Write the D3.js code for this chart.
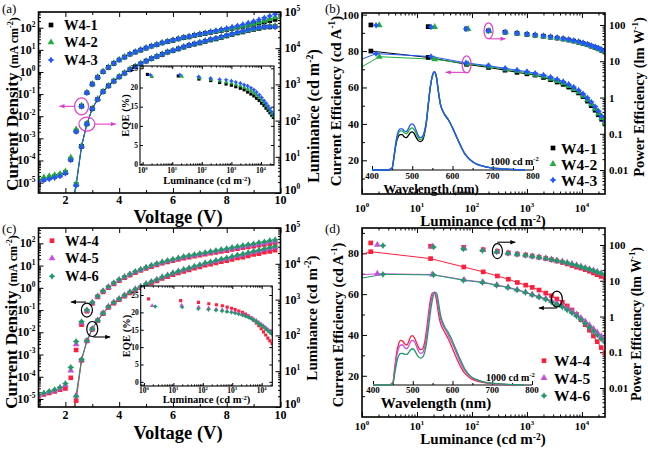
<!DOCTYPE html>
<html><head><meta charset="utf-8">
<script src="https://cdn.jsdelivr.net/npm/d3@7/dist/d3.min.js"></script>
<style>html,body{margin:0;padding:0;background:#fff;} svg text, svg tspan{font-family:"Liberation Serif","Times New Roman",serif;}</style>
</head><body>
<script>
// ================= DATA =================
const seriesNamesAB = ["W4-1","W4-2","W4-3"];
const seriesNamesCD = ["W4-4","W4-5","W4-6"];

// J-V (V) and L-V (V) voltages
const voltJ = [1.0,1.2,1.4,1.6,1.8,2.0,2.2,2.4,2.6,2.8,3.0,3.2,3.4,3.6,3.8,4.0,4.2,4.4,4.6,4.8,5.0,5.2,5.4,5.6,5.8,6.0,6.2,6.4,6.6,6.8,7.0,7.2,7.4,7.6,7.8,8.0,8.2,8.4,8.6,8.8,9.0,9.2,9.4,9.6,9.8];
const voltL = [2.2,2.4,2.6,2.8,3.0,3.2,3.4,3.6,3.8,4.0,4.2,4.4,4.6,4.8,5.0,5.2,5.4,5.6,5.8,6.0,6.2,6.4,6.6,6.8,7.0,7.2,7.4,7.6,7.8,8.0,8.2,8.4,8.6,8.8,9.0,9.2,9.4,9.6,9.8];

// (a) current density, mA cm-2
const J_W41 = [1.17e-5,1.41e-5,1.62e-5,1.86e-5,2.19e-5,2.82e-5,1.12e-4,2.14e-3,0.0288,0.115,0.282,0.575,1.02,1.62,2.45,3.47,4.68,6.31,7.94,9.77,12.0,14.5,17.0,20.4,23.4,26.9,30.9,35.5,38.9,44.7,50.1,55.0,61.7,67.6,75.9,83.2,93.3,105,115,129,141,162,182,209,240];
const J_W42 = [1.45e-5,1.7e-5,1.95e-5,2.15e-5,2.45e-5,3.2e-5,1.35e-4,2.5e-3,0.030,0.118,0.29,0.59,1.05,1.66,2.5,3.55,4.8,6.45,8.1,10.0,12.3,14.8,17.4,20.9,24.0,27.6,31.7,36.4,40.0,46.0,51.6,56.8,63.8,70.0,78.7,86.4,97.0,110,121,136,150,175,205,245,295];
const J_W43 = [1.1e-5,1.3e-5,1.45e-5,1.65e-5,1.95e-5,2.6e-5,1.05e-4,2.0e-3,0.028,0.113,0.28,0.57,1.02,1.63,2.48,3.52,4.75,6.4,8.05,9.9,12.2,14.7,17.3,20.8,23.9,27.5,31.6,36.3,40.0,46.0,51.8,57.5,65,72,82,92,105,122,140,163,192,230,280,340,410];
// (a) luminance, cd m-2
const L_W41 = [0.3,1.7,19.5,81,214,389,631,912,1230,1620,2040,2570,3090,3720,4370,5130,5890,6760,7760,8510,9550,10700,12000,12900,14100,15500,17000,18200,20000,21900,24000,26300,28200,30900,33100,35500,38000,38900,39800];
const L_W42 = [0.3,1.8,20,83,218,395,640,925,1250,1650,2080,2620,3150,3790,4450,5220,6000,6880,7900,8670,9730,10900,12200,13200,14400,15800,17400,18600,20500,22500,24600,27000,29000,31800,34100,36600,39200,40500,41500];
const L_W43 = [0.3,1.6,19,80,212,385,625,905,1220,1610,2030,2560,3080,3720,4380,5150,5920,6800,7830,8600,9660,10850,12200,13150,14400,15900,17500,18800,20700,22700,24900,27400,29400,32200,34500,36800,38800,39200,38500];

// (c) current density, mA cm-2
const J_W44 = [1.3e-5,1.6e-5,1.9e-5,2.2e-5,2.6e-5,3.0e-5,9.0e-5,1.6e-3,0.022,0.09,0.2,0.39,0.66,1.02,1.51,2.12,2.85,3.75,4.8,6.0,7.4,9.0,10.8,12.7,14.5,16.6,19.0,21.6,24.2,26.5,29.5,32.3,35.8,39.0,43.5,47.5,53,57.5,63.5,69,75,82,89,97,105];
const J_W45 = [1.45e-5,1.75e-5,2.05e-5,2.4e-5,2.95e-5,4.2e-5,1.9e-4,2.9e-3,0.027,0.096,0.215,0.41,0.70,1.08,1.6,2.25,3.05,4.0,5.15,6.45,7.95,9.7,11.7,13.8,15.8,18.1,20.8,23.7,26.6,29.2,32.5,35.6,40,43.7,49,53.5,60,65,72.5,79,86.5,96,104,116,128];
const J_W46 = [1.55e-5,1.86e-5,2.19e-5,2.63e-5,3.31e-5,5.0e-5,2.63e-4,3.89e-3,0.0302,0.1,0.224,0.427,0.724,1.12,1.66,2.34,3.16,4.17,5.37,6.76,8.32,10.2,12.3,14.5,16.6,19.1,21.9,25.1,28.2,30.9,34.7,38.0,42.7,46.8,52.5,57.5,64.6,70.8,79.4,87.1,95.5,107,117,132,145];
// (c) luminance, cd m-2
const L_W44 = [0.2,1.5,20,70,148,258,405,610,800,1000,1250,1530,1830,2140,2550,2920,3340,3900,4350,4960,5540,6180,6750,7520,8200,9150,9700,10600,11500,12300,13300,14500,15400,16700,18200,19300,21000,22300,24200];
const L_W45 = [0.3,2.1,21,71,152,265,420,635,835,1050,1320,1620,1950,2290,2730,3140,3600,4230,4740,5430,6080,6810,7460,8350,9140,10300,10950,12000,13100,14100,15300,16800,17900,19600,21400,22900,25000,26700,29100];
const L_W46 = [0.3,2.0,21,71,151,263,417,631,832,1050,1320,1620,1950,2290,2750,3160,3630,4270,4790,5500,6170,6920,7590,8510,9330,10500,11200,12300,13500,14500,15800,17400,18600,20400,22400,24000,26300,28200,30900];

// (a inset, b) efficiencies vs luminance
const lumB_W41 = [1.45,16,80,200,400,660,1000,1410,2000,2690,3550,4570,5750,7080,8710,10500,12600,14800,17400,20000,22900,26300];
const EQE_W41  = [23.4,23.0,22.2,21.8,21.3,20.9,20.6,20.2,19.8,19.4,18.8,18.3,17.8,17.2,16.6,15.9,15.3,14.6,14.0,13.4,12.8,12.2];
const CE_W41   = [80,76.5,72.7,71.0,69.5,68.3,67.5,66.8,65.5,64.3,63,61.7,60.2,58.7,57,55,52.5,50,47.5,45,42.5,40];
const PE_W41   = [100,90,78,69,63,59,55,52,49,46,43.5,41,38.5,36,33.5,31,28.5,26,24,22,20,18];
const lumB_W42 = [0.5,2.06,21,85,205,410,670,1010,1420,2000,2700,3550,4570,5750,7080,8710,10500,12600,14800,17400,20000,22900,26300];
const EQE_W42  = [19.5,22.8,22.9,22.5,22.1,21.7,21.4,21.1,20.8,20.4,20.0,19.6,19.1,18.6,18.0,17.4,16.7,16.0,15.3,14.6,13.9,13.2,12.5];
const CE_W42   = [66,76.9,75.5,73.0,71.5,70.0,69.0,68.0,67.0,66.0,64.8,63.6,62.3,60.8,59.2,57.5,55.5,53.2,50.8,48.3,45.7,43.2,40.5];
const PE_W42   = [75,98,88,77,68,62.5,58.5,55,52,49,46,43.5,41,38.5,36,33.5,31,28.5,26.2,24.2,22.2,20.3,18.5];
const lumB_W43 = [0.5,1.8,18,78,198,400,660,1000,1410,2000,2690,3550,4570,5750,7080,8710,10500,12600,14800,17400,20000,22900,26300];
const EQE_W43  = [21,23.3,23.3,22.8,22.4,22.1,22.0,21.7,21.4,21.1,20.7,20.4,19.9,19.4,18.8,18.1,17.4,16.6,15.9,15.2,14.5,13.7,13.0];
const CE_W43   = [72,78.6,77.0,73.5,72.0,70.5,69.5,68.7,67.8,66.8,65.7,64.5,63.2,61.8,60.2,58.5,56.5,54.3,52.0,49.5,47.0,44.3,41.5];
const PE_W43   = [80,98,89,78,69,63.5,59.5,56,53,50,47,44.5,42,39.5,37,34.5,32,29.5,27,25,23,21,19];

// (c inset, d) efficiencies vs luminance
const lumD_W44 = [0.5,1.44,17.7,71,160,290,460,670,950,1250,1660,2200,2800,3500,4400,5400,6600,8000,9600,11500,13700,16200,19000,22500,26500];
const EQE_W44  = [22.5,23.9,23.4,22.9,22.5,22.2,21.9,21.5,21.2,20.8,20.4,20.0,19.5,19.0,18.4,17.7,17.0,16.2,15.3,14.4,13.5,12.6,11.8,11.0,10.3];
const CE_W44   = [77,80.8,77.4,73.3,70.9,68.9,67.3,65.7,64.4,63.3,62.0,60.5,59.2,57.6,56.0,54.2,52.2,50.0,47.5,45.0,42.3,39.5,36.7,33.8,31.0];
const PE_W44   = [115,114,92,86,74,67,60,56,52.6,49,45.5,42,38.5,35.5,32.5,29.5,26.5,24,22.5,20.5,18.5,16.6,14.8,13.2,11.8];
const lumD_W45 = [0.5,1.9,19,72,158,285,455,665,940,1250,1660,2200,2800,3500,4400,5400,6600,8000,9600,11500,13700,16200,19000,22500,26500];
const EQE_W45  = [21.8,21.9,22.0,21.5,21.2,20.9,20.7,20.4,20.2,20.0,19.7,19.4,19.1,18.8,18.4,18.0,17.6,17.1,16.6,16.1,15.6,15.1,14.6,14.1,13.6];
const CE_W45   = [68.9,70.0,69.6,67.0,65.9,64.5,63.4,62.2,61.0,59.8,58.8,57.8,56.7,55.5,54.3,53.0,51.6,50.0,48.3,46.6,44.8,43.0,41.2,39.4,37.6];
const PE_W45   = [98,101,90,80,72,65,59,55,51.5,48.5,45.5,42.5,39.5,37,34.5,32,29.5,27.2,25,23,21.2,19.5,17.9,16.4,15];
const lumD_W46 = [0.5,2.4,20,70,155,280,450,660,940,1250,1660,2200,2800,3500,4400,5400,6600,8000,9600,11500,13700,16200,19000,22500,26500];
const EQE_W46  = [21.6,21.7,21.5,21.0,20.8,20.6,20.4,20.2,20.0,19.8,19.5,19.2,18.9,18.6,18.2,17.8,17.3,16.8,16.3,15.8,15.2,14.7,14.2,13.7,13.2];
const CE_W46   = [66.4,69.7,69.4,66.8,65.7,64.3,63.2,62.0,60.8,59.6,58.5,57.4,56.2,55.0,53.7,52.3,50.8,49.2,47.5,45.7,43.8,41.9,40.0,38.1,36.2];
const PE_W46   = [90,96,88,78,70,64,58.5,54.5,51,48,45,42,39,36.5,34,31.5,29,26.8,24.6,22.6,20.8,19.1,17.5,16,14.6];

// EL spectra at 1000 cd m-2 (normalized)
const wavelength = [400,420,440,450,455,460,465,470,475,480,485,490,495,500,505,510,515,520,525,530,535,540,545,550,555,560,565,570,575,580,590,600,610,620,630,640,650,660,680,700,720,740,760,780];
const EL_W41 = [0,0,0,0.02,0.14,0.27,0.34,0.36,0.36,0.34,0.33,0.35,0.38,0.39,0.37,0.33,0.30,0.29,0.30,0.36,0.48,0.67,0.85,0.96,1.0,0.95,0.80,0.67,0.61,0.57,0.51,0.43,0.34,0.25,0.17,0.12,0.085,0.06,0.035,0.02,0.012,0.007,0.003,0];
const EL_W42 = [0,0,0,0.02,0.15,0.29,0.37,0.40,0.40,0.38,0.37,0.39,0.42,0.43,0.41,0.37,0.33,0.31,0.32,0.38,0.49,0.68,0.85,0.96,1.0,0.95,0.80,0.67,0.61,0.57,0.51,0.43,0.34,0.25,0.17,0.12,0.085,0.06,0.035,0.02,0.012,0.007,0.003,0];
const EL_W43 = [0,0,0,0.02,0.15,0.30,0.39,0.42,0.42,0.40,0.39,0.42,0.46,0.47,0.45,0.40,0.35,0.33,0.34,0.39,0.50,0.68,0.85,0.96,1.0,0.95,0.80,0.67,0.61,0.57,0.51,0.43,0.34,0.25,0.17,0.12,0.085,0.06,0.035,0.02,0.012,0.007,0.003,0];
const EL_W44 = [0,0,0,0.03,0.20,0.36,0.45,0.48,0.47,0.44,0.43,0.47,0.52,0.53,0.50,0.45,0.40,0.38,0.39,0.46,0.60,0.78,0.93,0.99,0.99,0.90,0.76,0.66,0.61,0.57,0.49,0.39,0.29,0.20,0.13,0.09,0.06,0.045,0.025,0.015,0.008,0.004,0.002,0];
const EL_W45 = [0,0,0,0.02,0.17,0.32,0.40,0.43,0.43,0.40,0.39,0.42,0.47,0.48,0.46,0.41,0.36,0.34,0.35,0.41,0.54,0.72,0.88,0.97,1.0,0.95,0.82,0.71,0.65,0.61,0.53,0.44,0.34,0.24,0.16,0.11,0.075,0.055,0.03,0.018,0.01,0.005,0.002,0];
const EL_W46 = [0,0,0,0.015,0.13,0.25,0.32,0.34,0.34,0.33,0.33,0.35,0.38,0.39,0.37,0.33,0.30,0.29,0.30,0.35,0.46,0.63,0.80,0.93,0.99,0.99,0.88,0.75,0.68,0.63,0.56,0.47,0.37,0.27,0.18,0.12,0.08,0.06,0.032,0.02,0.011,0.006,0.003,0];

// tick labels
const voltTicks = [2,4,6,8,10];
const ceTicks = [20,40,60,80,100];
const peTickLabels = ["0.01","0.1","1","10","100"];
const eqeTicks = [0,5,10,15,20,25];
const wlTicks = [400,500,600,700,800];

// ================= DRAW =================
const W=648,H=449;
const FONT='"Liberation Serif","Times New Roman",serif';
const svg=d3.select('body').append('svg').attr('width',W).attr('height',H).style('font-family',FONT);
svg.append('rect').attr('width',W).attr('height',H).attr('fill','#fff');
const defs=svg.append('defs');
let clipN=0;
function clip(l,t,r,b){const id='cp'+(clipN++);defs.append('clipPath').attr('id',id).append('rect').attr('x',l).attr('y',t).attr('width',r-l).attr('height',b-t);return `url(#${id})`;}

const star4={draw(ctx,size){const r=Math.sqrt(size)*0.8,ri=r*0.55;for(let i=0;i<8;i++){const a=Math.PI/4*i-Math.PI/2;const rr=i%2?ri:r;const px=rr*Math.cos(a),py=rr*Math.sin(a);if(i===0)ctx.moveTo(px,py);else ctx.lineTo(px,py);}ctx.closePath();}};

function logMajors(dom){const a=Math.min(...dom),b=Math.max(...dom);const out=[];for(let e=Math.ceil(Math.log10(a)-1e-9);e<=Math.floor(Math.log10(b)+1e-9);e++)out.push(Math.pow(10,e));return out;}
function logMinors(dom){const a=Math.min(...dom),b=Math.max(...dom);const out=[];for(let e=Math.floor(Math.log10(a))-1;e<=Math.ceil(Math.log10(b));e++)for(let m=2;m<10;m++){const v=m*Math.pow(10,e);if(v>=a&&v<=b)out.push(v);}return out;}
function ticks(parent,fn,scale,vals,len,tx,ty){
  const g=parent.append('g').attr('transform',`translate(${tx},${ty})`);
  g.call(fn(scale).tickValues(vals).tickSizeInner(-len).tickSizeOuter(0).tickFormat(()=>''));
  g.select('.domain').remove();g.selectAll('.tick text').remove();
  g.selectAll('.tick line').attr('stroke','#000').attr('stroke-width',1);
  return g;
}
function pow10(parent,x,y,e,fs,anchor){
  const t=parent.append('text').attr('x',x).attr('y',y).attr('font-size',fs).attr('font-weight','bold').attr('text-anchor',anchor||'middle').attr('fill','#000').style('font-family',FONT);
  t.append('tspan').text('10');
  t.append('tspan').attr('dy',-fs*0.42).attr('font-size',fs*0.62).text(e);
  return t;
}
function rich(parent,x,y,parts,rot,anchor){
  const t=parent.append('text').attr('transform',`translate(${x},${y}) rotate(${rot||0})`).attr('text-anchor',anchor||'middle').attr('font-weight','bold').attr('fill','#000').style('font-family',FONT);
  let up=0;
  parts.forEach(p=>{const s=t.append('tspan').attr('font-size',p[1]).text(p[0]);
    if(p[2]){s.attr('dy',-p[2]);up+=p[2];} else if(up){s.attr('dy',up);up=0;}});
  return t;
}
function txt(parent,x,y,s,fs,anchor,weight){return parent.append('text').attr('x',x).attr('y',y).attr('font-size',fs).attr('font-weight',weight||'bold').attr('text-anchor',anchor||'middle').attr('fill','#000').style('font-family',FONT).text(s);}
function arrow(g,x1,y1,x2,y2,color){
  g.append('line').attr('x1',x1).attr('y1',y1).attr('x2',x2).attr('y2',y2).attr('stroke',color).attr('stroke-width',1.1);
  const a=Math.atan2(y2-y1,x2-x1),L=5,w=2.2;
  const p=[[x2,y2],[x2-L*Math.cos(a)+w*Math.sin(a),y2-L*Math.sin(a)-w*Math.cos(a)],[x2-L*Math.cos(a)-w*Math.sin(a),y2-L*Math.sin(a)+w*Math.cos(a)]];
  g.append('path').attr('d','M'+p.join('L')+'Z').attr('fill',color);
}
function ellipse(g,cx,cy,rx,ry,color){g.append('ellipse').attr('cx',cx).attr('cy',cy).attr('rx',rx).attr('ry',ry).attr('fill','none').attr('stroke',color).attr('stroke-width',1.2);}
function marks(g,xs,ys,sym,size,color){
  g.selectAll(null).data(d3.zip(xs,ys)).join('path')
   .attr('transform',d=>`translate(${d[0]},${d[1]})`).attr('d',d3.symbol().type(sym).size(size)).attr('fill',color);
}

const C1='#000000',C2='#1fae3e',C3='#2457ff',C4='#ff1f3d',C5='#c64fe0',C6='#1f9a68',PINK='#e03cc8';

// ---------- J-V-L panel ----------
function jvPanel(c){
  const {l,r,t,b}=c.box;
  const g=svg.append('g');
  const x=d3.scaleLinear().domain([1,10]).range([l,r]);
  const yJ=d3.scaleLog().domain(c.jDom).range([b,t]);
  const yL=d3.scaleLog().domain([1,1e5]).range([b,t]);
  ticks(g,d3.axisBottom,x,voltTicks,5,0,b);ticks(g,d3.axisBottom,x,[1,3,5,7,9],3,0,b);
  ticks(g,d3.axisTop,x,voltTicks,5,0,t);ticks(g,d3.axisTop,x,[1,3,5,7,9],3,0,t);
  ticks(g,d3.axisLeft,yJ,logMajors(yJ.domain()),5,l,0);ticks(g,d3.axisLeft,yJ,logMinors(yJ.domain()),2.5,l,0);
  ticks(g,d3.axisRight,yL,logMajors(yL.domain()),5,r,0);ticks(g,d3.axisRight,yL,logMinors(yL.domain()),2.5,r,0);
  const dg=g.append('g').attr('clip-path',clip(l,t,r,b));
  c.series.forEach(s=>{
    dg.append('path').datum(d3.zip(voltL,s.L)).attr('d',d3.line().x(d=>x(d[0])).y(d=>yL(d[1]))).attr('fill','none').attr('stroke',s.color).attr('stroke-width',1);
  });
  c.series.forEach(s=>{
    marks(dg,voltJ.map(x),s.J.map(yJ),s.sym,s.size,s.color);
    marks(dg,voltL.map(x),s.L.map(yL),s.sym,s.size,s.color);
  });
  g.append('rect').attr('x',l).attr('y',t).attr('width',r-l).attr('height',b-t).attr('fill','none').attr('stroke','#000').attr('stroke-width',1.6);
  voltTicks.forEach(v=>txt(g,x(v),c.xlabY,String(v),12));
  logMajors(yJ.domain()).forEach(v=>pow10(g,l-3,yJ(v)+4,String(Math.round(Math.log10(v))),12,'end'));
  logMajors(yL.domain()).forEach(v=>pow10(g,r+4,Math.min(yL(v)+4,b+1),String(Math.round(Math.log10(v))),12,'start'));
  rich(g,c.ltitle[0],c.ltitle[1],[["Current Density ",17],["(mA cm",12],["-2",8,5],[")",12]],-90);
  rich(g,c.rtitle[0],c.rtitle[1],[["Luminance (cd m",c.rtitle[2]],["-2",c.rtitle[2]*0.62,6],[")",c.rtitle[2]]],-90);
  txt(g,178,c.xtitleY,"Voltage (V)",18.5);
  // legend
  c.series.forEach((s,i)=>{
    const yy=c.leg.y[i];
    g.append('path').attr('transform',`translate(${c.leg.mx},${yy})`).attr('d',d3.symbol().type(s.sym).size(s.size)).attr('fill',s.color);
    txt(g,c.leg.tx,yy+5,s.name,14.5,'start');
  });
  // inset EQE
  const ib=c.inset;
  g.append('rect').attr('x',ib.l).attr('y',ib.t).attr('width',ib.r-ib.l).attr('height',ib.b-ib.t).attr('fill','#fff');
  const xi=d3.scaleLog().domain(ib.xDom).range([ib.l,ib.r]);
  const yi=d3.scaleLinear().domain(ib.yDom).range([ib.b,ib.t]);
  ticks(g,d3.axisBottom,xi,logMajors(xi.domain()),3,0,ib.b);ticks(g,d3.axisBottom,xi,logMinors(xi.domain()),1.6,0,ib.b);
  ticks(g,d3.axisTop,xi,logMajors(xi.domain()),3,0,ib.t);ticks(g,d3.axisTop,xi,logMinors(xi.domain()),1.6,0,ib.t);
  const eq=eqeTicks.filter(v=>v>=ib.yDom[0]&&v<=ib.yDom[1]);
  ticks(g,d3.axisLeft,yi,eq,3,ib.l,0);ticks(g,d3.axisRight,yi,eq,3,ib.r,0);
  const ig=g.append('g').attr('clip-path',clip(ib.l,ib.t,ib.r,ib.b));
  c.series.forEach(s=>marks(ig,s.lum.map(xi),s.eqe.map(yi),s.sym,s.isize,s.color));
  g.append('rect').attr('x',ib.l).attr('y',ib.t).attr('width',ib.r-ib.l).attr('height',ib.b-ib.t).attr('fill','none').attr('stroke','#000').attr('stroke-width',1.1);
  eq.forEach(v=>txt(g,ib.l-2,yi(v)+2.8,String(v),7.5,'end'));
  logMajors(xi.domain()).forEach(v=>pow10(g,xi(v),ib.xlabY,String(Math.round(Math.log10(v))),7.5,'middle'));
  rich(g,(ib.l+ib.r)/2,ib.titleY,[["Luminance ",10.5],["(cd m",10.5],["-2",6.5,3.5],[")",10.5]],0);
  rich(g,ib.eqeX,(ib.t+ib.b)/2,[["EQE (%)",10.5]],-90);
  return {g,x,yJ,yL};
}

// ---------- efficiency panel ----------
function effPanel(c){
  const {l,r,t,b}=c.box;
  const g=svg.append('g');
  const x=d3.scaleLog().domain([1,Math.pow(10,4.42)]).range([l,r]);
  const yC=d3.scaleLinear().domain(c.ceDom).range([b,t]);
  const yP=d3.scaleLog().domain(c.peDom).range([b,t]);
  ticks(g,d3.axisBottom,x,logMajors(x.domain()),5,0,b);ticks(g,d3.axisBottom,x,logMinors(x.domain()),2.5,0,b);
  ticks(g,d3.axisTop,x,logMajors(x.domain()),5,0,t);ticks(g,d3.axisTop,x,logMinors(x.domain()),2.5,0,t);
  const ceMaj=ceTicks.filter(v=>v>=c.ceDom[0]&&v<=c.ceDom[1]);
  const ceMin=[10,30,50,70,90].filter(v=>v>=c.ceDom[0]&&v<=c.ceDom[1]);
  ticks(g,d3.axisLeft,yC,ceMaj,5,l,0);ticks(g,d3.axisLeft,yC,ceMin,3,l,0);
  ticks(g,d3.axisRight,yP,logMajors(yP.domain()),5,r,0);ticks(g,d3.axisRight,yP,logMinors(yP.domain()),2.5,r,0);
  // spectrum inset
  const sp=c.spec;
  const xs=d3.scaleLinear().domain([400,800]).range([sp.l,sp.r]);
  const ys=d3.scaleLinear().domain([0,1]).range([sp.base,sp.peak]);
  g.append('line').attr('x1',sp.l).attr('x2',sp.r).attr('y1',sp.base).attr('y2',sp.base).attr('stroke','#000').attr('stroke-width',1.2);
  ticks(g,d3.axisBottom,xs,wlTicks,4,0,sp.base);ticks(g,d3.axisBottom,xs,[450,550,650,750],2,0,sp.base);
  c.series.forEach(s=>{
    g.append('path').datum(d3.zip(wavelength,s.el)).attr('d',d3.line().curve(d3.curveMonotoneX).x(d=>xs(d[0])).y(d=>ys(d[1]))).attr('fill','none').attr('stroke',s.color).attr('stroke-width',1.3);
  });
  wlTicks.forEach(v=>txt(g,xs(v),sp.labY,String(v),9));
  txt(g,sp.titleX,sp.titleY,"Wavelength (nm)",sp.titleFs);
  rich(g,sp.noteX,sp.noteY,[["1000 cd m",10],["-2",6.5,4]],0,'start');
  // data
  const dg=g.append('g').attr('clip-path',clip(l,t,r,b));
  c.series.forEach(s=>{
    dg.append('path').datum(d3.zip(s.lum,s.ce)).attr('d',d3.line().x(d=>x(d[0])).y(d=>yC(d[1]))).attr('fill','none').attr('stroke',s.color).attr('stroke-width',1);
  });
  c.series.forEach(s=>{
    marks(dg,s.lum.map(x),s.ce.map(yC),s.sym,s.size,s.color);
    marks(dg,s.lum.map(x),s.pe.map(yP),s.sym,s.size,s.color);
  });
  g.append('rect').attr('x',l).attr('y',t).attr('width',r-l).attr('height',b-t).attr('fill','none').attr('stroke','#000').attr('stroke-width',1.6);
  logMajors(x.domain()).forEach(v=>pow10(g,x(v),c.xlabY,String(Math.round(Math.log10(v))),11,'middle'));
  ceMaj.forEach(v=>txt(g,l-3,yC(v)+4,String(v),11,'end'));
  logMajors(yP.domain()).forEach((v,i)=>txt(g,r+4,yP(v)+4,peTickLabels[i],11,'start'));
  rich(g,c.ltitle[0],c.ltitle[1],[["Current Efficiency (cd A",c.ltitle[2]],["-1",c.ltitle[2]*0.62,6],[")",c.ltitle[2]]],-90);
  rich(g,c.rtitle[0],c.rtitle[1],[["Power Efficiency (lm W",c.rtitle[2]],["-1",c.rtitle[2]*0.62,6],[")",c.rtitle[2]]],-90);
  rich(g,483,c.xtitleY,[["Luminance (cd m",15],["-2",9.5,4.5],[")",15]],0);
  c.series.forEach((s,i)=>{
    const yy=c.leg.y[i];
    g.append('path').attr('transform',`translate(${c.leg.mx},${yy})`).attr('d',d3.symbol().type(s.sym).size(s.size)).attr('fill',s.color);
    txt(g,c.leg.tx,yy+5.5,s.name,15.5,'start');
  });
  return {g,x,yC,yP};
}

// ---------- panels ----------
const A=jvPanel({
  box:{l:38.5,r:280.5,t:12,b:193}, jDom:[Math.pow(10,-5.47),Math.pow(10,2.71)],
  xlabY:204, xtitleY:223, ltitle:[17.5,104], rtitle:[319,116,16],
  leg:{mx:51,tx:64,y:[25,42.3,60]},
  inset:{l:140,r:274,t:66,b:165,xDom:[Math.pow(10,-0.09),Math.pow(10,4.44)],yDom:[-0.2,25.6],xlabY:173,titleY:184,eqeX:129},
  series:[
    {name:seriesNamesAB[0],J:J_W41,L:L_W41,lum:lumB_W41,eqe:EQE_W41,color:C1,sym:d3.symbolSquare,size:22,isize:10},
    {name:seriesNamesAB[1],J:J_W42,L:L_W42,lum:lumB_W42,eqe:EQE_W42,color:C2,sym:d3.symbolTriangle,size:20,isize:9},
    {name:seriesNamesAB[2],J:J_W43,L:L_W43,lum:lumB_W43,eqe:EQE_W43,color:C3,sym:star4,size:18,isize:9}]
});
const Cp=jvPanel({
  box:{l:38.5,r:280.5,t:228,b:407}, jDom:[Math.pow(10,-5.36),Math.pow(10,2.69)],
  xlabY:419, xtitleY:439, ltitle:[17,322], rtitle:[317,318,15],
  leg:{mx:52,tx:65,y:[240.7,258.3,276.3]},
  inset:{l:140.7,r:272.3,t:286,b:386,xDom:[Math.pow(10,-0.11),Math.pow(10,4.36)],yDom:[-1.2,27.6],xlabY:393,titleY:403,eqeX:130},
  series:[
    {name:seriesNamesCD[0],J:J_W44,L:L_W44,lum:lumD_W44,eqe:EQE_W44,color:C4,sym:d3.symbolSquare,size:22,isize:10},
    {name:seriesNamesCD[1],J:J_W45,L:L_W45,lum:lumD_W45,eqe:EQE_W45,color:C5,sym:d3.symbolTriangle,size:20,isize:9},
    {name:seriesNamesCD[2],J:J_W46,L:L_W46,lum:lumD_W46,eqe:EQE_W46,color:C6,sym:star4,size:18,isize:9}]
});
const B=effPanel({
  box:{l:362,r:605,t:13,b:194}, ceDom:[1.5,100.9], peDom:[Math.pow(10,-2.66),Math.pow(10,2.33)],
  xlabY:211.5, xtitleY:226, ltitle:[341,101,15], rtitle:[644,97,14.5],
  leg:{mx:553,tx:561,y:[148,164,180]},
  spec:{l:372,r:533,base:170,peak:72,labY:178.5,titleX:431,titleY:192.5,titleFs:13,noteX:490,noteY:165},
  series:[
    {name:seriesNamesAB[0],lum:lumB_W41,ce:CE_W41,pe:PE_W41,el:EL_W41,color:C1,sym:d3.symbolSquare,size:22},
    {name:seriesNamesAB[1],lum:lumB_W42,ce:CE_W42,pe:PE_W42,el:EL_W42,color:C2,sym:d3.symbolTriangle,size:20},
    {name:seriesNamesAB[2],lum:lumB_W43,ce:CE_W43,pe:PE_W43,el:EL_W43,color:C3,sym:star4,size:18}]
});
const D=effPanel({
  box:{l:362,r:605,t:228,b:417}, ceDom:[-0.2,92.4], peDom:[Math.pow(10,-2.81),Math.pow(10,2.475)],
  xlabY:429.5, xtitleY:444, ltitle:[343,325,14.5], rtitle:[641,324,14],
  leg:{mx:544,tx:554,y:[360.7,378,395.7]},
  spec:{l:373,r:532,base:385,peak:292,labY:393,titleX:436,titleY:408,titleFs:15,noteX:486,noteY:381},
  series:[
    {name:seriesNamesCD[0],lum:lumD_W44,ce:CE_W44,pe:PE_W44,el:EL_W44,color:C4,sym:d3.symbolSquare,size:22},
    {name:seriesNamesCD[1],lum:lumD_W45,ce:CE_W45,pe:PE_W45,el:EL_W45,color:C5,sym:d3.symbolTriangle,size:20},
    {name:seriesNamesCD[2],lum:lumD_W46,ce:CE_W46,pe:PE_W46,el:EL_W46,color:C6,sym:star4,size:18}]
});

// panel labels
txt(svg,2,13,"(a)",13,'start','normal');
txt(svg,325,13,"(b)",13,'start','normal');
txt(svg,2,233,"(c)",13,'start','normal');
txt(svg,325,233,"(d)",13,'start','normal');

// annotations
(function(){
  const g=svg.append('g');
  let cx=A.x(voltJ[8]),cy=A.yJ(J_W43[8]);
  ellipse(g,cx,cy,7,8.5,PINK);arrow(g,cx-7,cy,cx-22,cy,PINK);
  cx=A.x(voltL[3]);cy=A.yL(L_W43[3]);
  ellipse(g,cx,cy,8,7,PINK);arrow(g,cx+8,cy,cx+29,cy,PINK);
  cx=B.x(lumB_W41[3]);cy=B.yP(PE_W41[3]);
  ellipse(g,cx,cy,4.5,8,PINK);arrow(g,cx+1,cy+8,cx+17,cy+8,PINK);
  cx=B.x(lumB_W41[2]);cy=B.yC(CE_W41[2]);
  ellipse(g,cx,cy,4.5,8.5,PINK);arrow(g,cx,cy+8,cx-21,cy+8,PINK);
  cx=Cp.x(voltJ[9]);cy=Cp.yJ(J_W46[9]);
  ellipse(g,cx,cy,5.5,7,'#000');arrow(g,cx-1,cy-8,cx-16,cy-8,'#000');
  cx=Cp.x(voltL[4]);cy=Cp.yL(L_W46[4]);
  ellipse(g,cx,cy,5.5,7.5,'#000');arrow(g,cx+1,cy+8,cx+18,cy+8,'#000');
  cx=D.x(lumD_W44[5]);cy=D.yP(PE_W44[5]);
  ellipse(g,cx,cy,5,7.5,'#000');arrow(g,cx,cy-9,cx+18,cy-9,'#000');
  cx=D.x(lumD_W44[13]);cy=D.yC(CE_W44[13]);
  ellipse(g,cx,cy,5.5,8,'#000');arrow(g,cx,cy+9,cx-18,cy+9,'#000');
})();
</script>
</body></html>
